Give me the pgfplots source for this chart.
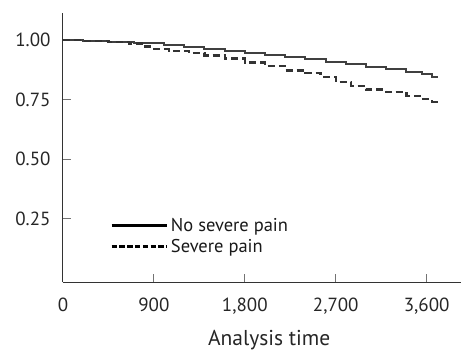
\documentclass[border=0pt]{standalone}
\usepackage{fontspec}
\setmainfont{PT Sans}
\usepackage{pgfplots}
\pgfplotsset{compat=1.18}
\begin{document}
\begin{tikzpicture}
\path[use as bounding box] (-63bp,-69bp) rectangle (398bp,282bp);
\begin{axis}[
  at={(0,0)}, anchor=south west,
  scale only axis, width=398bp, height=269bp,
  xmin=0, xmax=3940, ymin=-0.016, ymax=1.113,
  axis x line=bottom, axis y line=left,
  axis line style={-, line width=1bp, color=black!80},
  xtick={0,900,1800,2700,3600},
  ytick={0.25,0.5,0.75,1},
  tick align=inside, major tick length=8bp,
  tick style={line width=1bp, color=black!55},
  /pgf/number format/assume math mode=true,
  xticklabel shift=12bp, yticklabel shift=9bp,
  xticklabel style={/pgf/number format/1000 sep={,}, text=black!85,
    font=\fontsize{19bp}{20bp}\selectfont},
  yticklabel style={/pgf/number format/.cd, fixed, fixed zerofill, precision=2, /tikz/.cd,
    text=black!85, font=\fontsize{19bp}{20bp}\selectfont},
  xlabel={Analysis time},
  xlabel style={at={(axis description cs:0.518,-0.217)}, anchor=center, text=black!85,
    font=\fontsize{21.5bp}{24bp}\selectfont},
  legend style={draw=none, fill=none, at={(axis cs:465,0.178)}, anchor=west, inner sep=0pt,
    row sep=2.5bp, nodes={inner sep=2bp, text=black!90, font=\fontsize{18.5bp}{20bp}\selectfont}},
  legend cell align=left,
  legend image code/.code={\draw[#1] (0bp,0bp) -- (55bp,0bp);},
]
\addlegendimage{black, line width=2.8bp}
\addlegendentry{\hspace{1bp}No severe pain}
\addlegendimage{black, line width=2.8bp, dash pattern=on 5.5bp off 2.3bp}
\addlegendentry{\hspace{1bp}Severe pain}
\addplot[const plot, forget plot, color=black!75, line width=2bp] coordinates {
(0,1.0) (200,0.997) (450,0.99) (700,0.985) (1000,0.977) (1200,0.97) (1400,0.962)
(1600,0.953) (1800,0.944) (2000,0.936) (2200,0.927) (2400,0.918) (2600,0.908)
(2800,0.897) (3000,0.888) (3200,0.878) (3400,0.866) (3550,0.855) (3650,0.846) (3710,0.846)
};
\addplot[const plot, forget plot, color=black!80, line width=2.2bp, dash pattern=on 7bp off 4bp] coordinates {
(0,1.0) (200,0.997) (450,0.99) (650,0.985) (780,0.972) (900,0.962) (1050,0.955)
(1250,0.945) (1400,0.935) (1600,0.922) (1800,0.905) (2000,0.89) (2200,0.872)
(2400,0.86) (2550,0.845) (2700,0.822) (2850,0.805) (3000,0.792) (3200,0.78)
(3400,0.765) (3550,0.752) (3650,0.74) (3700,0.728) (3710,0.728)
};
\end{axis}
\end{tikzpicture}
\end{document}
